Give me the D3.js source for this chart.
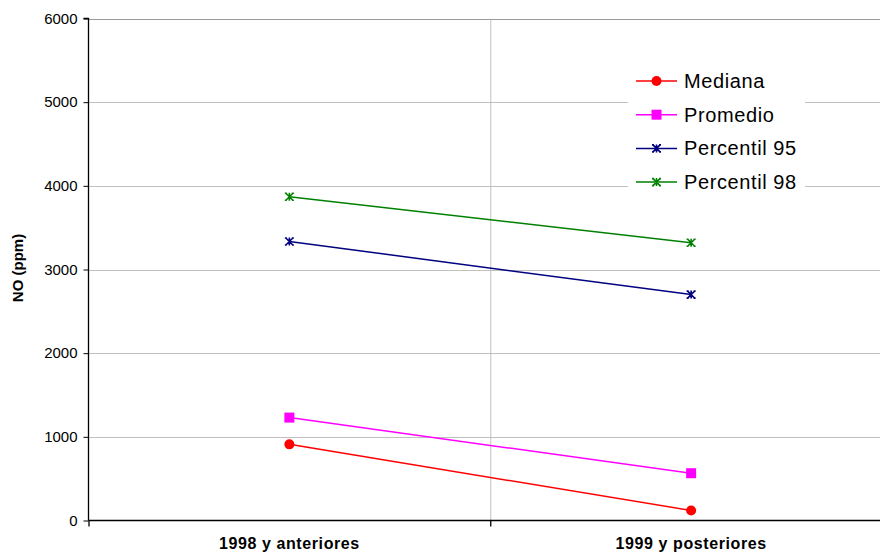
<!DOCTYPE html>
<html>
<head>
<meta charset="utf-8">
<script src="https://cdn.jsdelivr.net/npm/d3@7"></script>
<style>
  html, body { margin: 0; padding: 0; background: #fff; }
  svg { display: block; font-family: Arial, "Liberation Sans", sans-serif; }
</style>
</head>
<body>
<svg id="chart" width="880" height="556"></svg>
<script>
// Categories (x axis) and series values in ppm
const categories = ["1998 y anteriores", "1999 y posteriores"];
const mediana = [910, 120];
const promedio = [1230, 565];
const percentil95 = [3335, 2700];
const percentil98 = [3870, 3320];
const yTicks = [0, 1000, 2000, 3000, 4000, 5000, 6000];

const series = [
  { name: "Mediana", values: mediana, color: "#ff0000", marker: "circle" },
  { name: "Promedio", values: promedio, color: "#ff00ff", marker: "square" },
  { name: "Percentil 95", values: percentil95, color: "#000080", marker: "star" },
  { name: "Percentil 98", values: percentil98, color: "#008000", marker: "star" }
];

const svg = d3.select("#chart");
const plot = { left: 88.5, right: 892, top: 18.5, bottom: 520.5 };

const x = d3.scaleBand().domain(categories).range([plot.left, plot.right]);
const y = d3.scaleLinear().domain([0, 6000]).range([plot.bottom, plot.top]);

// Horizontal gridlines
svg.append("g").selectAll("line").data(yTicks.filter(d => d > 0)).join("line")
  .attr("x1", plot.left).attr("x2", plot.right)
  .attr("y1", d => Math.round(y(d)) + 0.5).attr("y2", d => Math.round(y(d)) + 0.5)
  .attr("stroke", d => d === 6000 ? "#999" : "#c0c0c0").attr("stroke-width", 1);

// Vertical gridline between categories
svg.append("line")
  .attr("x1", x(categories[1]) + 0.5).attr("x2", x(categories[1]) + 0.5)
  .attr("y1", plot.top).attr("y2", plot.bottom)
  .attr("stroke", "#c0c0c0");

// Y axis
const yAxis = d3.axisLeft(y).tickValues(yTicks).tickSize(5).tickPadding(6).tickFormat(d3.format("d"));
const gy = svg.append("g").attr("transform", `translate(${plot.left},0)`).call(yAxis);
gy.select(".domain").attr("stroke", "#000").attr("stroke-width", 1.3).attr("d", `M-5,${plot.top}H0V${plot.bottom}`);
gy.selectAll(".tick line").attr("stroke", "#000");
gy.selectAll(".tick text").attr("font-size", 15).attr("fill", "#000")
  .attr("font-family", "Arial, 'Liberation Sans', sans-serif");

// X axis
const gx = svg.append("g").attr("transform", `translate(0,${plot.bottom})`)
  .call(d3.axisBottom(x).tickSize(0).tickPadding(17));
gx.select(".domain").attr("stroke", "#000").attr("stroke-width", 1.3).attr("d", `M${plot.left},0H${plot.right}`);
gx.selectAll(".tick text").attr("font-size", 16).attr("font-weight", "bold").attr("fill", "#000")
  .attr("letter-spacing", "0.6px")
  .attr("font-family", "Arial, 'Liberation Sans', sans-serif");
// category boundary ticks
svg.append("g").selectAll("line").data([x(categories[0]), x(categories[1])]).join("line")
  .attr("x1", d => d + 0.5).attr("x2", d => d + 0.5)
  .attr("y1", plot.bottom).attr("y2", plot.bottom + 6)
  .attr("stroke", "#000").attr("stroke-width", 1.3);

// Y axis title
svg.append("text")
  .attr("transform", "translate(23,268) rotate(-90)")
  .attr("text-anchor", "middle").attr("font-size", 15).attr("font-weight", "bold")
  .text("NO (ppm)");

const cx = c => x(c) + x.bandwidth() / 2;

function drawMarker(g, type, color) {
  if (type === "circle") {
    g.append("circle").attr("r", 5).attr("fill", color);
  } else if (type === "square") {
    g.append("rect").attr("x", -5).attr("y", -5).attr("width", 10).attr("height", 10).attr("fill", color);
  } else {
    // asterisk-style marker: diagonal cross, vertical stroke and short end caps
    g.append("path")
      .attr("d", "M-3.5,-3.5L3.5,3.5M-3.5,3.5L3.5,-3.5M0,-4V4M-4.5,-3.5H-2.5M2.5,-3.5H4.5M-4.5,3.5H-2.5M2.5,3.5H4.5")
      .attr("stroke", color).attr("stroke-width", 1.6).attr("fill", "none");
  }
}

// Series lines and markers
const line = d3.line().x((d, i) => cx(categories[i])).y(d => y(d));
series.forEach(s => {
  svg.append("path").datum(s.values).attr("d", line)
    .attr("fill", "none").attr("stroke", s.color).attr("stroke-width", 1.5);
  s.values.forEach((v, i) => {
    const g = svg.append("g").attr("transform", `translate(${cx(categories[i])},${y(v)})`);
    drawMarker(g, s.marker, s.color);
  });
});

// Legend
const legend = svg.append("g").attr("transform", "translate(628,62)");
legend.append("rect").attr("width", 177).attr("height", 138).attr("fill", "#fff");
series.forEach((s, i) => {
  const row = legend.append("g").attr("transform", `translate(0,${19 + i * 33.7})`);
  row.append("line").attr("x1", 8).attr("x2", 49).attr("stroke", s.color).attr("stroke-width", 1.5);
  const m = row.append("g").attr("transform", "translate(28.5,0)");
  drawMarker(m, s.marker, s.color);
  row.append("text").attr("x", 56).attr("y", 7).attr("font-size", 20).attr("letter-spacing", "0.6px")
    .attr("fill", "#000").text(s.name);
});
</script>
</body>
</html>
